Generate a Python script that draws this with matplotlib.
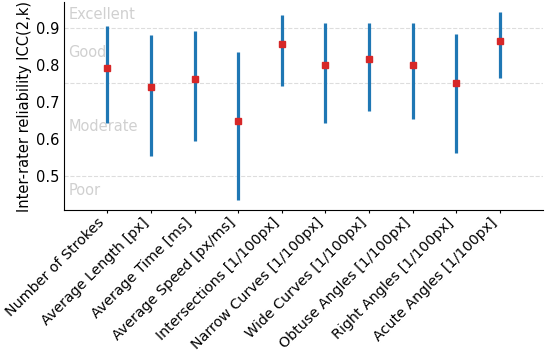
import matplotlib
matplotlib.use("Agg")
import matplotlib.pyplot as plt
import numpy as np

features = ["Number of Strokes", "Average Length [px]", "Average Time [ms]",
            "Average Speed [px/ms]", "Intersections [1/100px]",
            "Narrow Curves [1/100px]", "Wide Curves [1/100px]",
            "Obtuse Angles [1/100px]", "Right Angles [1/100px]",
            "Acute Angles [1/100px]"]
icc = [0.791, 0.741, 0.762, 0.650, 0.855, 0.799, 0.815, 0.799, 0.750, 0.864]
ci_low = [0.644, 0.554, 0.594, 0.435, 0.744, 0.643, 0.675, 0.654, 0.564, 0.765]
ci_high = [0.903, 0.881, 0.892, 0.834, 0.933, 0.911, 0.911, 0.911, 0.882, 0.943]

# Koo & Li thresholds
bands = ["Excellent", "Good", "Moderate", "Poor"]
band_y = [0.935, 0.833, 0.634, 0.461]
thresholds = [0.9, 0.75, 0.5]

fs = 10.5
fig = plt.figure(figsize=(5.46, 3.54), dpi=100)
ax = fig.add_axes([0.117, 0.407, 0.878, 0.587])

x = np.arange(len(features))
ax.vlines(x, ci_low, ci_high, color="tab:blue", linewidth=2.3, zorder=2)
ax.plot(x, icc, "s", color="tab:red", markersize=5, zorder=3)

for t in thresholds:
    ax.axhline(t, color="#dddddd", linestyle="--", linewidth=0.8, zorder=1)
for name, yy in zip(bands, band_y):
    ax.text(0.009, yy, name, transform=ax.get_yaxis_transform(),
            color="#d0d0d0", fontsize=fs, va="center", ha="left")

ax.set_xlim(-1, 10)
ax.set_xticks(x)
ax.set_xticklabels(features, rotation=45, ha="right", fontsize=10.3)
ax.set_yticks([0.5, 0.6, 0.7, 0.8, 0.9])
ax.tick_params(axis="y", labelsize=fs, length=0, pad=3)
ax.tick_params(axis="x", length=2.5, pad=1.5)
ax.set_ylabel("Inter-rater reliability ICC(2,k)", fontsize=fs, labelpad=3)
ax.spines["top"].set_visible(False)
ax.spines["right"].set_visible(False)

fig.savefig("out.png", dpi=100)
